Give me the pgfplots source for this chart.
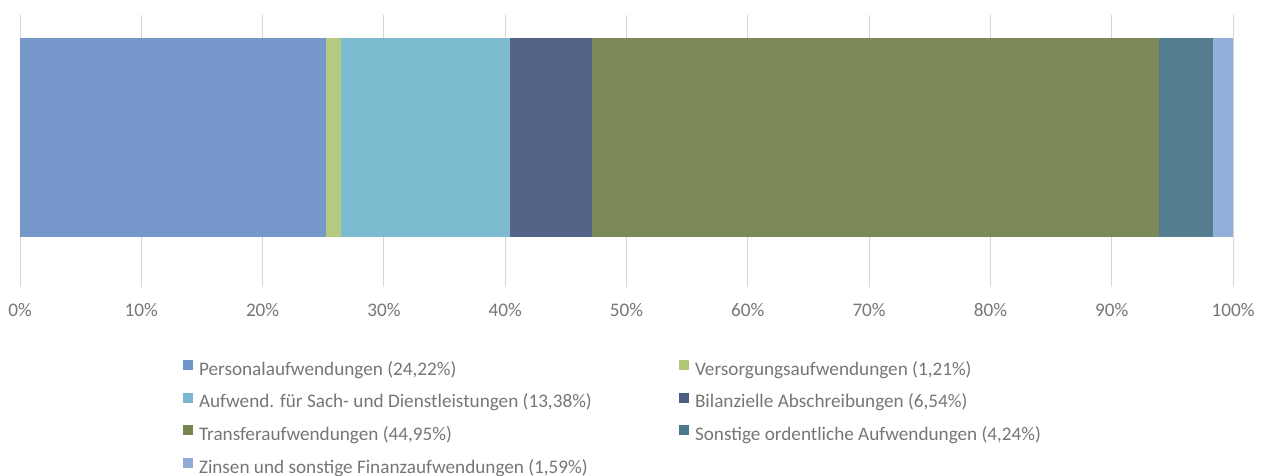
\documentclass[border=0pt]{standalone}
\usepackage{fontspec}
\setmainfont{Carlito}
\usepackage{pgfplots}
\pgfplotsset{compat=1.18}
\definecolor{cPers}{HTML}{7094C9}
\definecolor{cVers}{HTML}{B2C879}
\definecolor{cSach}{HTML}{78B8CF}
\definecolor{cBil}{HTML}{4C5E81}
\definecolor{cTrans}{HTML}{778552}
\definecolor{cSonst}{HTML}{4D788A}
\definecolor{cZins}{HTML}{8EACD7}
\definecolor{gridc}{HTML}{D6D6D6}
\definecolor{txt}{HTML}{767676}
\newcommand\lent[1]{\makebox[480pt][l]{#1}}
\begin{document}
\fontsize{19.2pt}{23pt}\selectfont
\begin{tikzpicture}
\useasboundingbox (0,0) rectangle (1264pt,-476pt);
\begin{axis}[
  at={(20pt,-15pt)}, anchor=north west,
  scale only axis, width=1213pt, height=272pt,
  xmin=0, xmax=100, ymin=0, ymax=272,
  xbar stacked, bar width=199pt,
  axis line style={draw=none},
  ytick=\empty,
  xtick={0,10,...,100},
  xticklabels={0\%,10\%,20\%,30\%,40\%,50\%,60\%,70\%,80\%,90\%,100\%},
  major tick length=0pt,
  xmajorgrids,
  grid style={draw=gridc, line width=1pt},
  /pgf/number format/assume math mode=true,
  tick label style={font=\fontsize{19.2pt}{23pt}\selectfont, text=txt},
  xticklabel style={anchor=base, yshift=-29pt},
  every axis plot/.append style={draw=none, fill opacity=0.96},
  legend columns=2,
  legend image code/.code={\fill[#1,draw=none,fill opacity=1] (0pt,1pt) rectangle (10pt,11pt); \path (16pt,0pt);},
  legend style={at={(axis description cs:0.1344,-0.2683)}, anchor=north west,
    draw=none, fill=none, inner sep=0pt, outer sep=0pt,
    column sep=0pt, row sep=13pt,
    cells={anchor=west},
    nodes={inner sep=0pt, text height=13pt, text depth=4.5pt, text=txt},
    font=\fontsize{19.2pt}{23pt}\selectfont},
]
\addplot[fill=cPers] coordinates {(25.195,149.5)};
\addlegendentry{\lent{Personalaufwendungen (24,22\%)}}
\addplot[fill=cVers] coordinates {(1.259,149.5)};
\addlegendentry{\lent{Versorgungsaufwendungen (1,21\%)}}
\addplot[fill=cSach] coordinates {(13.919,149.5)};
\addlegendentry{\lent{Aufwend. für Sach- und Dienstleistungen (13,38\%)}}
\addplot[fill=cBil] coordinates {(6.803,149.5)};
\addlegendentry{\lent{Bilanzielle Abschreibungen (6,54\%)}}
\addplot[fill=cTrans] coordinates {(46.760,149.5)};
\addlegendentry{\lent{Transferaufwendungen (44,95\%)}}
\addplot[fill=cSonst] coordinates {(4.411,149.5)};
\addlegendentry{\lent{Sonstige ordentliche Aufwendungen (4,24\%)}}
\addplot[fill=cZins] coordinates {(1.654,149.5)};
\addlegendentry{\lent{Zinsen und sonstige Finanzaufwendungen (1,59\%)}}
\end{axis}
\end{tikzpicture}
\end{document}
